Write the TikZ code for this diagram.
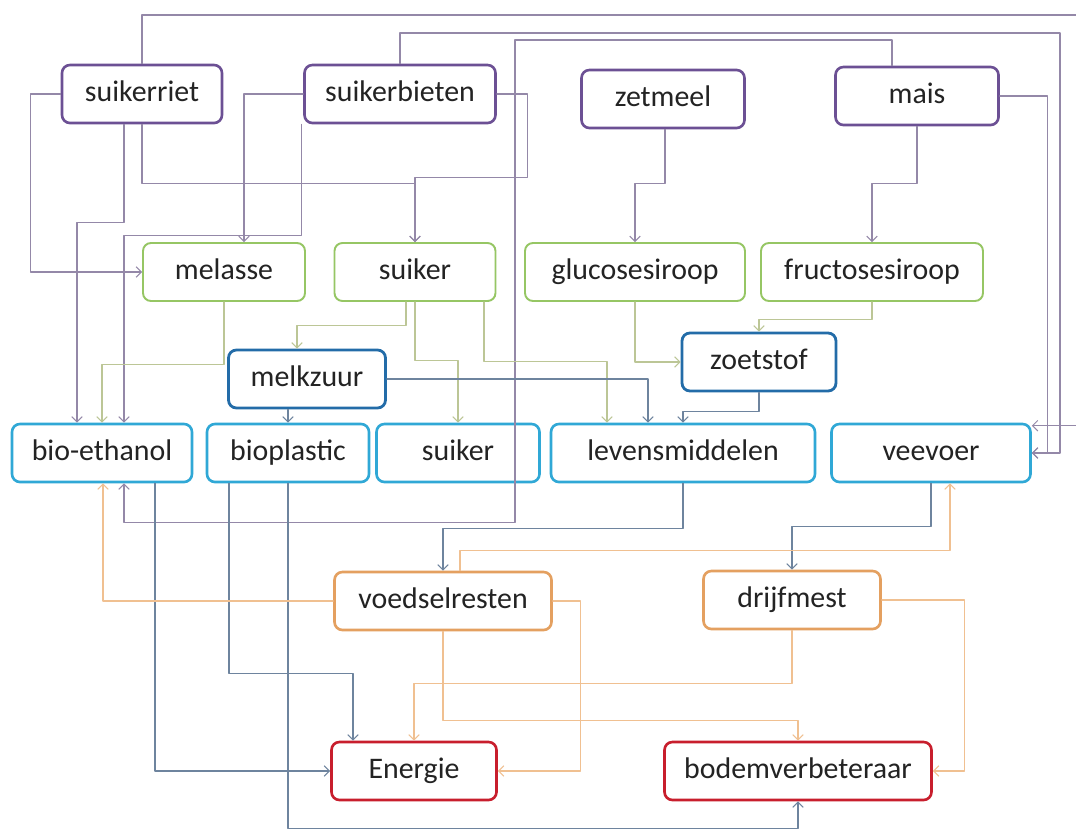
\documentclass[tikz,border=0pt]{standalone}
\usepackage{fontspec}
\setmainfont{Carlito}
\usepackage{tikz}
\usetikzlibrary{calc,arrows.meta}

\definecolor{paars}{RGB}{108,80,148}
\definecolor{groen}{RGB}{150,198,100}
\definecolor{donkerblauw}{RGB}{35,108,168}
\definecolor{lichtblauw}{RGB}{48,168,214}
\definecolor{oranje}{RGB}{228,160,96}
\definecolor{rood}{RGB}{200,30,45}
\definecolor{tekst}{RGB}{35,35,35}
% lijnkleuren
\definecolor{lijnpaars}{RGB}{148,136,168}
\definecolor{lijngroen}{RGB}{188,198,150}
\definecolor{lijnblauw}{RGB}{110,132,158}
\definecolor{lijnoranje}{RGB}{240,192,145}

\begin{document}
\begin{tikzpicture}[
		x=0.02cm,y=-0.02cm,
		line cap=round,line join=round,
		box/.style={draw,rounded corners=4.5pt,line width=1.5pt,minimum height=1.16cm,
			inner sep=0pt,text height=12.5pt,text depth=3.5pt,
			text=tekst,font=\fontsize{17}{20}\selectfont},
		grondstof/.style={box,draw=paars},
		tussen/.style={box,draw=groen,line width=1.1pt},
		bewerkt/.style={box,draw=donkerblauw,line width=1.6pt},
		product/.style={box,draw=lichtblauw},
		rest/.style={box,draw=oranje},
		eind/.style={box,draw=rood},
		lijn/.style={line width=0.6pt,-{Straight Barb[length=3pt,width=6pt]}},
		lpaars/.style={lijn,lijnpaars},
		lgroen/.style={lijn,lijngroen},
		lblauw/.style={lijn,lijnblauw},
		loranje/.style={lijn,lijnoranje}
		]
		% ---- canvas
		\fill[white] (0,0) rectangle (1076,829);
		\useasboundingbox (0,0) rectangle (1076,829);
		
		% ---- rij 1: grondstoffen
		\node[grondstof, minimum width=3.2cm]  (suikerriet)   at (142,94) {suikerriet};
		\node[grondstof, minimum width=3.82cm] (suikerbieten) at (400,94) {suikerbieten};
		\node[grondstof, minimum width=3.26cm] (zetmeel)      at (663,99) {zetmeel};
		\node[grondstof, minimum width=3.26cm] (mais)         at (917,96) {mais};
		
		% ---- rij 2
		\node[tussen, minimum width=3.24cm] (melasse)  at (224,272) {melasse};
		\node[tussen, minimum width=3.22cm] (suiker)   at (415,272) {suiker};
		\node[tussen, minimum width=4.4cm]  (glucose)  at (635,272) {glucosesiroop};
		\node[tussen, minimum width=4.44cm] (fructose) at (872,272) {fructosesiroop};
		
		% ---- rij 3
		\node[bewerkt, minimum width=3.14cm] (melkzuur) at (307,379) {melkzuur};
		\node[bewerkt, minimum width=3.08cm] (zoetstof) at (759,362) {zoetstof};
		
		% ---- rij 4: producten
		\node[product, minimum width=3.6cm]  (ethanol) at (102,453) {bio-ethanol};
		\node[product, minimum width=3.24cm] (plastic) at (288,453) {bioplastic};
		\node[product, minimum width=3.26cm] (suikerB) at (458,453) {suiker};
		\node[product, minimum width=5.28cm] (levens)  at (683,453) {levensmiddelen};
		\node[product, minimum width=3.98cm] (veevoer) at (931,453) {veevoer};
		
		% ---- rij 5: reststromen
		\node[rest, minimum width=4.34cm] (resten) at (443,601) {voedselresten};
		\node[rest, minimum width=3.54cm] (mest)   at (792,600) {drijfmest};
		
		% ---- rij 6
		\node[eind, minimum width=3.3cm]  (energie) at (414,771) {Energie};
		\node[eind, minimum width=5.34cm] (bodem)   at (798,771) {bodemverbeteraar};
		
		% ---- lijnen vanuit de grondstoffen
		\draw[lpaars] (suikerriet.north) |- (1080,15) |- ($(veevoer.north east)+(0,3)$);
		\draw[lpaars] (suikerbieten.north) |- (1060,33) |- (veevoer.east);
		\draw[lpaars] (mais.east) -| ($(veevoer.east)+(16,0)$) -- (veevoer.east);
		\draw[lpaars] ($(mais.north)+(-25,0)$) |- (515,40) |- ($(ethanol.south)+(22,39)$) -- ($(ethanol.south)+(22,0)$);
		\draw[lpaars] (suikerriet.west) -| ($(melasse.west)+(-112,0)$) -- (melasse.west);
		\draw[lpaars] (suikerriet.south) -- ++(0,59) -| (suiker.north);
		\draw[lpaars] ($(suikerriet.south)+(-18,0)$) |- ($(ethanol.north)+(-25,-200)$) -- ($(ethanol.north)+(-25,0)$);
		\draw[lpaars] (suikerbieten.west) -| ($(melasse.north)+(20,0)$);
		\draw[lpaars] ($(suikerbieten.south west)+(-2,0)$) |- ($(ethanol.north)+(22,-187)$) -- ($(ethanol.north)+(22,0)$);
		\draw[lpaars] (suikerbieten.east) -- ++(31,0) |- ($(suiker.north)+(0,-65)$) -- (suiker.north);
		\draw[lpaars] ($(zetmeel.south)+(2,0)$) -- ++(0,54) -| (glucose.north);
		\draw[lpaars] (mais.south) -- ++(0,57) -| (fructose.north);
		
		% ---- lijnen vanuit rij 2
		\draw[lgroen] (melasse.south) |- ($(ethanol.north)+(0,-58)$) -- (ethanol.north);
		\draw[lgroen] ($(suiker.south)+(-9,0)$) |- ($(melkzuur.north)+(-10,-23)$) -- ($(melkzuur.north)+(-10,0)$);
		\draw[lgroen] (suiker.south) |- ($(suikerB.north)+(0,-62)$) -- (suikerB.north);
		\draw[lgroen] ($(suiker.south)+(69,0)$) |- ($(levens.north)+(-76,-61)$) -- ($(levens.north)+(-76,0)$);
		\draw[lgroen] (glucose.south) |- (zoetstof.west);
		\draw[lgroen] (fructose.south) -- ++(0,18) -| (zoetstof.north);
		
		% ---- lijnen vanuit rij 3 en 4
		\draw[lblauw] (plastic.north |- melkzuur.south) -- (plastic.north);
		\draw[lblauw] (melkzuur.east) -| ($(levens.north)+(-35,0)$);
		\draw[lblauw] (zoetstof.south) -- ++(0,19) -| (levens.north);
		\draw[lblauw] (levens.south) -- ++(0,45) -| (resten.north);
		\draw[lblauw] (veevoer.south) -- ++(0,43) -| (mest.north);
		\draw[lblauw] ($(ethanol.south)+(53,0)$) |- (energie.west);
		\draw[lblauw] ($(plastic.south)+(-59,0)$) |- ($(energie.north)+(-61,-67)$) -- ($(energie.north)+(-61,0)$);
		\draw[lblauw] (plastic.south) |- ($(bodem.south)+(0,27)$) -- (bodem.south);
		
		% ---- lijnen vanuit de reststromen
		\draw[loranje] (resten.west) -| ($(ethanol.south)+(1,0)$);
		\draw[loranje] ($(resten.north)+(17,0)$) |- ($(veevoer.south)+(19,67)$) -- ($(veevoer.south)+(19,0)$);
		\draw[loranje] (resten.east) -- ++(28,0) |- (energie.east);
		\draw[loranje] (resten.south) |- ($(bodem.north)+(0,-20)$) -- (bodem.north);
		\draw[loranje] (mest.south) |- ($(energie.north)+(0,-57)$) -- (energie.north);
		\draw[loranje] (mest.east) -| ($(bodem.east)+(32,0)$) -- (bodem.east);
	\end{tikzpicture}
\end{document}
